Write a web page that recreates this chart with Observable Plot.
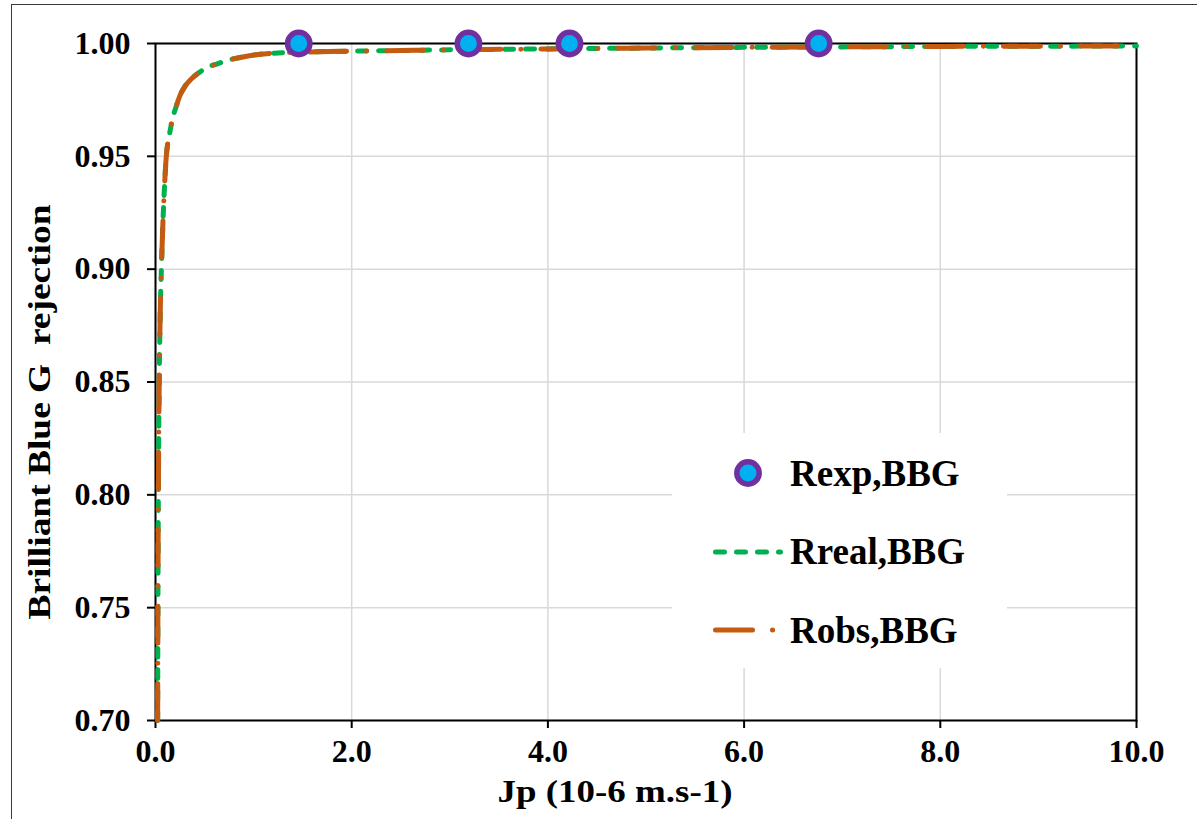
<!DOCTYPE html>
<html>
<head>
<meta charset="utf-8">
<script src="https://cdn.jsdelivr.net/npm/d3@7"></script>
<script src="https://cdn.jsdelivr.net/npm/@observablehq/plot@0.6"></script>
<style>
  html, body { margin: 0; padding: 0; background: white; }
  #wrap { position: relative; width: 1197px; height: 819px; overflow: hidden; background: white; }
  #border { position: absolute; left: 11px; top: 4px; width: 1300px; height: 900px;
            border-left: 1.5px solid #3a3a3a; border-top: 1.5px solid #3a3a3a; pointer-events: none; z-index: 3; }
  #legend { position: absolute; left: 672px; top: 433px; width: 335px; height: 235px; background: white; z-index: 2; }
  #chart { position: absolute; left: 0; top: 0; z-index: 1; }
  #wrap, #wrap svg, #wrap text { font-family: "Liberation Serif", "Times New Roman", Times, serif !important; }
</style>
</head>
<body>
<div id="wrap">
  <div id="chart"></div>
  <div id="legend"></div>
  <div id="border"></div>
</div>
<script>
// ---- data ----
const jp = [0.022, 0.024, 0.027, 0.032, 0.038, 0.048, 0.06, 0.075, 0.09, 0.11, 0.14, 0.17, 0.21, 0.25, 0.30, 0.37, 0.45, 0.53, 0.63, 0.73, 0.85, 0.97, 1.2, 1.5, 2.0, 2.5, 3.0, 4.0, 5.0, 6.0, 7.0, 8.0, 9.0, 10.0];
const rReal = [0.700, 0.740, 0.780, 0.820, 0.850, 0.880, 0.900, 0.920, 0.935, 0.950, 0.959, 0.966, 0.972, 0.977, 0.981, 0.9845, 0.9873, 0.9895, 0.991, 0.9925, 0.9937, 0.9947, 0.9957, 0.9962, 0.9966, 0.9969, 0.9972, 0.9976, 0.998, 0.9983, 0.9985, 0.9987, 0.9988, 0.9989];
const rObs  = [0.700, 0.740, 0.780, 0.820, 0.850, 0.880, 0.900, 0.920, 0.935, 0.950, 0.959, 0.966, 0.972, 0.977, 0.981, 0.9845, 0.9873, 0.9895, 0.991, 0.9925, 0.9937, 0.9947, 0.9957, 0.9962, 0.9966, 0.9969, 0.9972, 0.9976, 0.998, 0.9983, 0.9985, 0.9987, 0.9988, 0.9989];
const expJp = [1.46, 3.19, 4.22, 6.76];
const expR  = [1.00, 1.00, 1.00, 1.00];
const xTicks = [0, 2, 4, 6, 8, 10];
const yTicks = [0.70, 0.75, 0.80, 0.85, 0.90, 0.95, 1.00];
const seriesNames = ["Rexp,BBG", "Rreal,BBG", "Robs,BBG"];
const xTitle = "Jp (10-6 m.s-1)";
const yTitle = "Brilliant Blue G\u00a0 rejection";

const realData = jp.map((x, i) => ({x, y: rReal[i]}));
const obsData  = jp.map((x, i) => ({x, y: rObs[i]}));
const expData  = expJp.map((x, i) => ({x, y: expR[i]}));

const GREEN = "#00b050", ORANGE = "#c55a11", PURPLE = "#7030a0", CYAN = "#00b0f0";
const FONT = "Liberation Serif, Times New Roman, Times, serif";

const chart = Plot.plot({
  width: 1197,
  height: 819,
  marginLeft: 155,
  marginRight: 61,
  marginTop: 43,
  marginBottom: 99,
  style: {fontFamily: FONT, fontSize: "32px", fontWeight: "bold", color: "black", background: "transparent", overflow: "visible"},
  x: {domain: [0, 10]},
  y: {domain: [0.70, 1.00]},
  marks: [
    Plot.gridX(xTicks, {stroke: "#d9d9d9", strokeOpacity: 1, strokeWidth: 1.5}),
    Plot.gridY(yTicks, {stroke: "#d9d9d9", strokeOpacity: 1, strokeWidth: 1.5}),
    Plot.frame({stroke: "black", strokeWidth: 2}),
    Plot.axisX(xTicks, {tickFormat: d => d.toFixed(1), tickSize: 8, tickPadding: 11, strokeWidth: 2, label: null}),
    Plot.axisY(yTicks, {tickFormat: d => d.toFixed(2), tickSize: 8, tickPadding: 17, strokeWidth: 2, label: null}),
    Plot.line(realData, {x: "x", y: "y", stroke: GREEN, strokeWidth: 5, strokeDasharray: "9,12", strokeLinecap: "round", curve: "monotone-x"}),
    Plot.line(obsData, {x: "x", y: "y", stroke: ORANGE, strokeWidth: 5, strokeDasharray: "37,20,0.1,20", strokeLinecap: "round", curve: "monotone-x"}),
    Plot.dot(expData, {x: "x", y: "y", r: 11.2, fill: CYAN, stroke: PURPLE, strokeWidth: 5.5}),
    Plot.text([xTitle], {frameAnchor: "bottom", textAnchor: "middle", dx: -31, dy: 71, lineAnchor: "middle", fontSize: 32, fontWeight: "bold"}),
    Plot.text([yTitle], {frameAnchor: "left", textAnchor: "middle", rotate: -90, dx: -115, dy: 30, lineAnchor: "middle", fontSize: 31, fontWeight: "bold"})
  ]
});
document.getElementById("chart").appendChild(chart);

// stretch titles to the reference's lengths
chart.querySelectorAll("text").forEach(t => {
  if (t.textContent === xTitle) { t.setAttribute("textLength", 235); t.setAttribute("lengthAdjust", "spacingAndGlyphs"); }
  if (t.textContent === yTitle) { t.setAttribute("textLength", 415); t.setAttribute("lengthAdjust", "spacingAndGlyphs"); }
});

// legend
const lg = d3.select("#legend").append("svg").attr("width", 335).attr("height", 235)
  .style("font-family", FONT).style("font-weight", "bold").style("font-size", "37px");
lg.append("circle").attr("cx", 76).attr("cy", 40).attr("r", 11.2)
  .attr("fill", CYAN).attr("stroke", PURPLE).attr("stroke-width", 5.5);
lg.append("line").attr("x1", 43.5).attr("x2", 108.5).attr("y1", 119).attr("y2", 119)
  .attr("stroke", GREEN).attr("stroke-width", 5).attr("stroke-dasharray", "9,12").attr("stroke-linecap", "round");
lg.append("line").attr("x1", 43.5).attr("x2", 101).attr("y1", 197).attr("y2", 197)
  .attr("stroke", ORANGE).attr("stroke-width", 5).attr("stroke-dasharray", "37,20,0.1,40").attr("stroke-linecap", "round");
const baselines = [53, 131, 210];
seriesNames.forEach((name, i) => {
  lg.append("text").attr("x", 118).attr("y", baselines[i]).attr("fill", "black").text(name);
});
</script>
</body>
</html>
